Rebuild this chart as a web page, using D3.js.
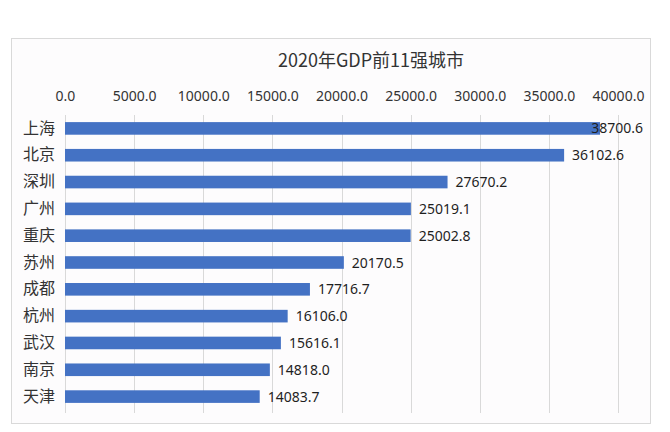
<!DOCTYPE html>
<html>
<head>
<meta charset="utf-8">
<script src="https://cdn.jsdelivr.net/npm/d3@7"></script>
<style>
  html, body { margin: 0; padding: 0; background: #ffffff; }
  svg { display: block; }
  text { font-family: "Noto Sans", "Noto Sans CJK SC", sans-serif; }
</style>
</head>
<body>
<svg id="chart" width="670" height="432"></svg>
<script>
const chartTitle = "2020年GDP前11强城市";
const cities = ["上海", "北京", "深圳", "广州", "重庆", "苏州", "成都", "杭州", "武汉", "南京", "天津"];
const gdpValues = [38700.6, 36102.6, 27670.2, 25019.1, 25002.8, 20170.5, 17716.7, 16106.0, 15616.1, 14818.0, 14083.7];
const tickValues = [0, 5000, 10000, 15000, 20000, 25000, 30000, 35000, 40000];

const svg = d3.select("#chart");
const frame = { left: 11, top: 38, right: 650, bottom: 423 };
const plot = { left: 65, right: 618, top: 115, bottom: 410 };

svg.append("rect")
  .attr("x", frame.left + 0.5).attr("y", frame.top + 0.5)
  .attr("width", frame.right - frame.left).attr("height", frame.bottom - frame.top)
  .attr("fill", "#fdfcfd").attr("stroke", "#d9d9d9").attr("stroke-width", 1);

const x = d3.scaleLinear().domain([0, 40000]).range([plot.left, plot.right]);
const y = d3.scaleBand().domain(cities).range([plot.top, plot.bottom])
  .paddingInner(0.53).paddingOuter(0.265);

// gridlines
svg.append("g").selectAll("line").data(tickValues).join("line")
  .attr("x1", d => Math.round(x(d)) + 0.5).attr("x2", d => Math.round(x(d)) + 0.5)
  .attr("y1", plot.top).attr("y2", plot.bottom + 3)
  .attr("stroke", "#d9d9d9").attr("stroke-width", 1);

// top axis tick labels
const xAxis = d3.axisTop(x).tickValues(tickValues).tickSize(0).tickPadding(0)
  .tickFormat(d3.format(".1f"));
const gx = svg.append("g").attr("transform", `translate(0,${101})`).call(xAxis);
gx.select(".domain").remove();
gx.selectAll("text").attr("font-size", 14).attr("fill", "#333333")
  .attr("dy", 0).style("font-family", "'Noto Sans', sans-serif");

// category axis
const yAxis = d3.axisLeft(y).tickSize(0).tickPadding(0);
const gy = svg.append("g").attr("transform", `translate(${55},0)`).call(yAxis);
gy.select(".domain").remove();
gy.selectAll("text").attr("font-size", 16).attr("fill", "#333333")
  .style("font-family", "'Noto Sans CJK SC', sans-serif");

// bars
const data = cities.map((c, i) => ({ city: c, value: gdpValues[i] }));
svg.append("g").selectAll("rect").data(data).join("rect")
  .attr("x", x(0)).attr("y", d => y(d.city))
  .attr("width", d => x(d.value) - x(0)).attr("height", y.bandwidth())
  .attr("fill", "#4472c4");

// value labels
const labels = svg.append("g").selectAll("text").data(data).join("text")
  .attr("y", d => y(d.city) + y.bandwidth() / 2)
  .attr("dy", "0.36em")
  .attr("font-size", 14).attr("fill", "#1f1f1f")
  .text(d => d3.format(".1f")(d.value));
labels.attr("x", function(d) {
  const w = this.getComputedTextLength();
  return Math.min(x(d.value) + 8, frame.right - 7 - w);
});

// title
svg.append("text")
  .attr("x", 371).attr("y", 67)
  .attr("text-anchor", "middle")
  .attr("font-size", 18).attr("fill", "#333333")
  .style("font-family", "'Noto Sans CJK SC', 'Noto Sans', sans-serif")
  .text(chartTitle);
</script>
</body>
</html>
